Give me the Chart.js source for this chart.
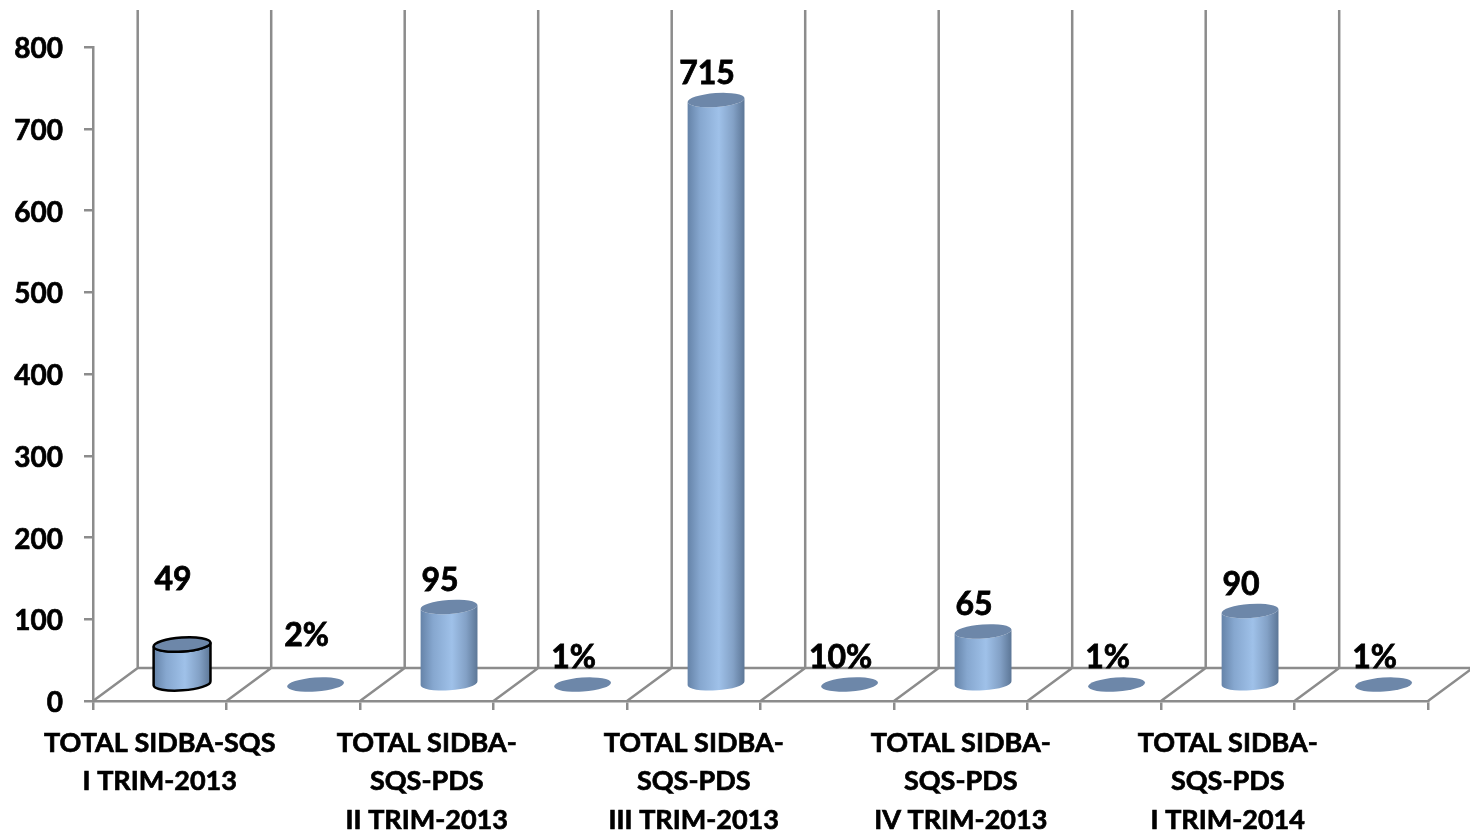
<!DOCTYPE html>
<html>
<head>
<meta charset="utf-8">
<style>
  html, body { margin: 0; padding: 0; background: #fff; overflow: hidden; }
</style>
<script src="https://cdn.jsdelivr.net/npm/chart.js@4/dist/chart.umd.js"></script>
</head>
<body>
<canvas id="chart" width="1470" height="835"></canvas>
<script>
// ---- DATA ----
const categories = [
    ['TOTAL SIDBA-SQS', 'I TRIM-2013'], '',
    ['TOTAL SIDBA-', 'SQS-PDS', 'II TRIM-2013'], '',
    ['TOTAL SIDBA-', 'SQS-PDS', 'III TRIM-2013'], '',
    ['TOTAL SIDBA-', 'SQS-PDS', 'IV TRIM-2013'], '',
    ['TOTAL SIDBA-', 'SQS-PDS', 'I TRIM-2014'], ''
];
const values = [49, 0.02, 95, 0.01, 715, 0.1, 65, 0.01, 90, 0.01];
const valueLabels = ['49', '2%', '95', '1%', '715', '10%', '65', '1%', '90', '1%'];
const outlineColors = ['#000000', null, null, null, null, null, null, null, null, null];

// ---- 3D LOOK ----
const GREY = '#8c8c8c';
const FONT = 'Lato, Carlito, sans-serif';
const DEPTH_X = 44.7;    // floor depth, front edge to back wall
const DEPTH_Y = -33;
const BAR_X = 22.3;      // cylinders stand in the middle of the floor
const BAR_Y = -16.4;
const TILT = -4 * Math.PI / 180;

class CylinderElement extends Chart.BarElement {
    static id = 'cylinder';

    draw(ctx) {
        const o = this.options;
        const rx = this.width / 2;
        const ry = 7;
        const cx = this.x + BAR_X;
        const top = this.y + BAR_Y;
        const bottom = this.base + BAR_Y;
        const outline = o.borderColor;

        const side = ctx.createLinearGradient(cx - rx, 0, cx + rx, 0);
        side.addColorStop(0, '#6583a8');
        side.addColorStop(0.22, '#86a7cf');
        side.addColorStop(0.55, '#9fc1e9');
        side.addColorStop(0.8, '#83a1c6');
        side.addColorStop(1, '#5c7696');

        ctx.save();
        if (bottom - top > 1) {
            ctx.beginPath();
            ctx.ellipse(cx, bottom, rx, ry, TILT, 0, Math.PI);
            ctx.ellipse(cx, top, rx, ry, TILT, Math.PI, 0, true);
            ctx.closePath();
            ctx.fillStyle = side;
            ctx.fill();
            if (outline) {
                ctx.strokeStyle = outline;
                ctx.lineWidth = 2.5;
                ctx.stroke();
            }
        }
        ctx.beginPath();
        ctx.ellipse(cx, top, rx, ry, TILT, 0, Math.PI * 2);
        ctx.fillStyle = '#6d87a9';
        ctx.fill();
        if (outline) {
            ctx.strokeStyle = outline;
            ctx.lineWidth = 2.5;
            ctx.stroke();
        }
        ctx.restore();
    }
}

class CylinderController extends Chart.BarController {
    static id = 'cylinder';
    static defaults = { dataElementType: 'cylinder' };
}

Chart.register(CylinderElement, CylinderController);

// back wall and floor lines
const wallPlugin = {
    id: 'wall',
    beforeDatasetsDraw(chart) {
        const { ctx, scales: { x, y } } = chart;
        const step = x.width / categories.length;
        const floorBack = y.bottom + DEPTH_Y;
        const wallTop = y.top + DEPTH_Y - 4;
        ctx.save();
        ctx.strokeStyle = GREY;
        ctx.lineWidth = 2.5;
        ctx.beginPath();
        ctx.moveTo(x.left + DEPTH_X, floorBack);
        ctx.lineTo(x.right + DEPTH_X, floorBack);
        for (let i = 0; i <= categories.length; i++) {
            const fx = x.left + i * step;
            ctx.moveTo(fx, y.bottom);
            ctx.lineTo(fx + DEPTH_X, floorBack);
            ctx.moveTo(fx + DEPTH_X, floorBack);
            ctx.lineTo(fx + DEPTH_X, wallTop);
        }
        ctx.stroke();
        ctx.restore();
    }
};

const valueLabelPlugin = {
    id: 'valueLabels',
    // Lato sits high on the middle baseline, nudge the y tick labels down
    afterUpdate(chart) {
        chart.scales.y.getLabelItems().forEach(item => { item.options.translation[1] += 2; });
    },
    afterDatasetsDraw(chart) {
        const { ctx } = chart;
        const bars = chart.getDatasetMeta(0).data;
        ctx.save();
        ctx.fillStyle = '#000';
        ctx.strokeStyle = '#000';
        ctx.lineWidth = 0.8;
        ctx.font = 'bold 32px ' + FONT;
        ctx.textAlign = 'center';
        ctx.textBaseline = 'middle';
        bars.forEach((bar, i) => {
            // first two labels were dragged higher in the original
            const lift = i === 0 ? 38 : i === 1 ? 22 : 0;
            const lx = bar.x + BAR_X - 9;
            const ly = bar.y + BAR_Y - 26.6 - lift;
            ctx.fillText(valueLabels[i], lx, ly);
            ctx.strokeText(valueLabels[i], lx, ly);
        });
        ctx.restore();
    }
};

new Chart(document.getElementById('chart'), {
    type: 'cylinder',
    data: {
        labels: categories,
        datasets: [{
            data: values,
            borderColor: outlineColors,
            categoryPercentage: 0.427,
            barPercentage: 1
        }]
    },
    options: {
        responsive: false,
        animation: false,
        layout: { padding: { top: 47, right: 42, left: 0, bottom: 0 } },
        plugins: { legend: { display: false }, tooltip: { enabled: false } },
        scales: {
            x: {
                afterFit: (s) => { s.height = 134; },
                grid: { drawOnChartArea: false, color: GREY, lineWidth: 2.5, tickLength: 9, offset: true },
                border: { color: GREY, width: 2.5 },
                ticks: {
                    autoSkip: false,
                    maxRotation: 0,
                    minRotation: 0,
                    color: '#000',
                    padding: 14,
                    textStrokeColor: '#000',
                    textStrokeWidth: 0.7,
                    font: { family: FONT, size: 27, weight: 'bold', lineHeight: 1.426 }
                }
            },
            y: {
                min: 0,
                max: 800,
                afterFit: (s) => { s.width = 93; },
                grid: { drawOnChartArea: false, color: GREY, lineWidth: 2.5, tickLength: 9 },
                border: { color: GREY, width: 2.5 },
                ticks: {
                    stepSize: 100,
                    color: '#000',
                    padding: 21,
                    textStrokeColor: '#000',
                    textStrokeWidth: 0.7,
                    font: { family: FONT, size: 28, weight: 'bold' }
                }
            }
        }
    },
    plugins: [wallPlugin, valueLabelPlugin]
});
</script>
</body>
</html>
